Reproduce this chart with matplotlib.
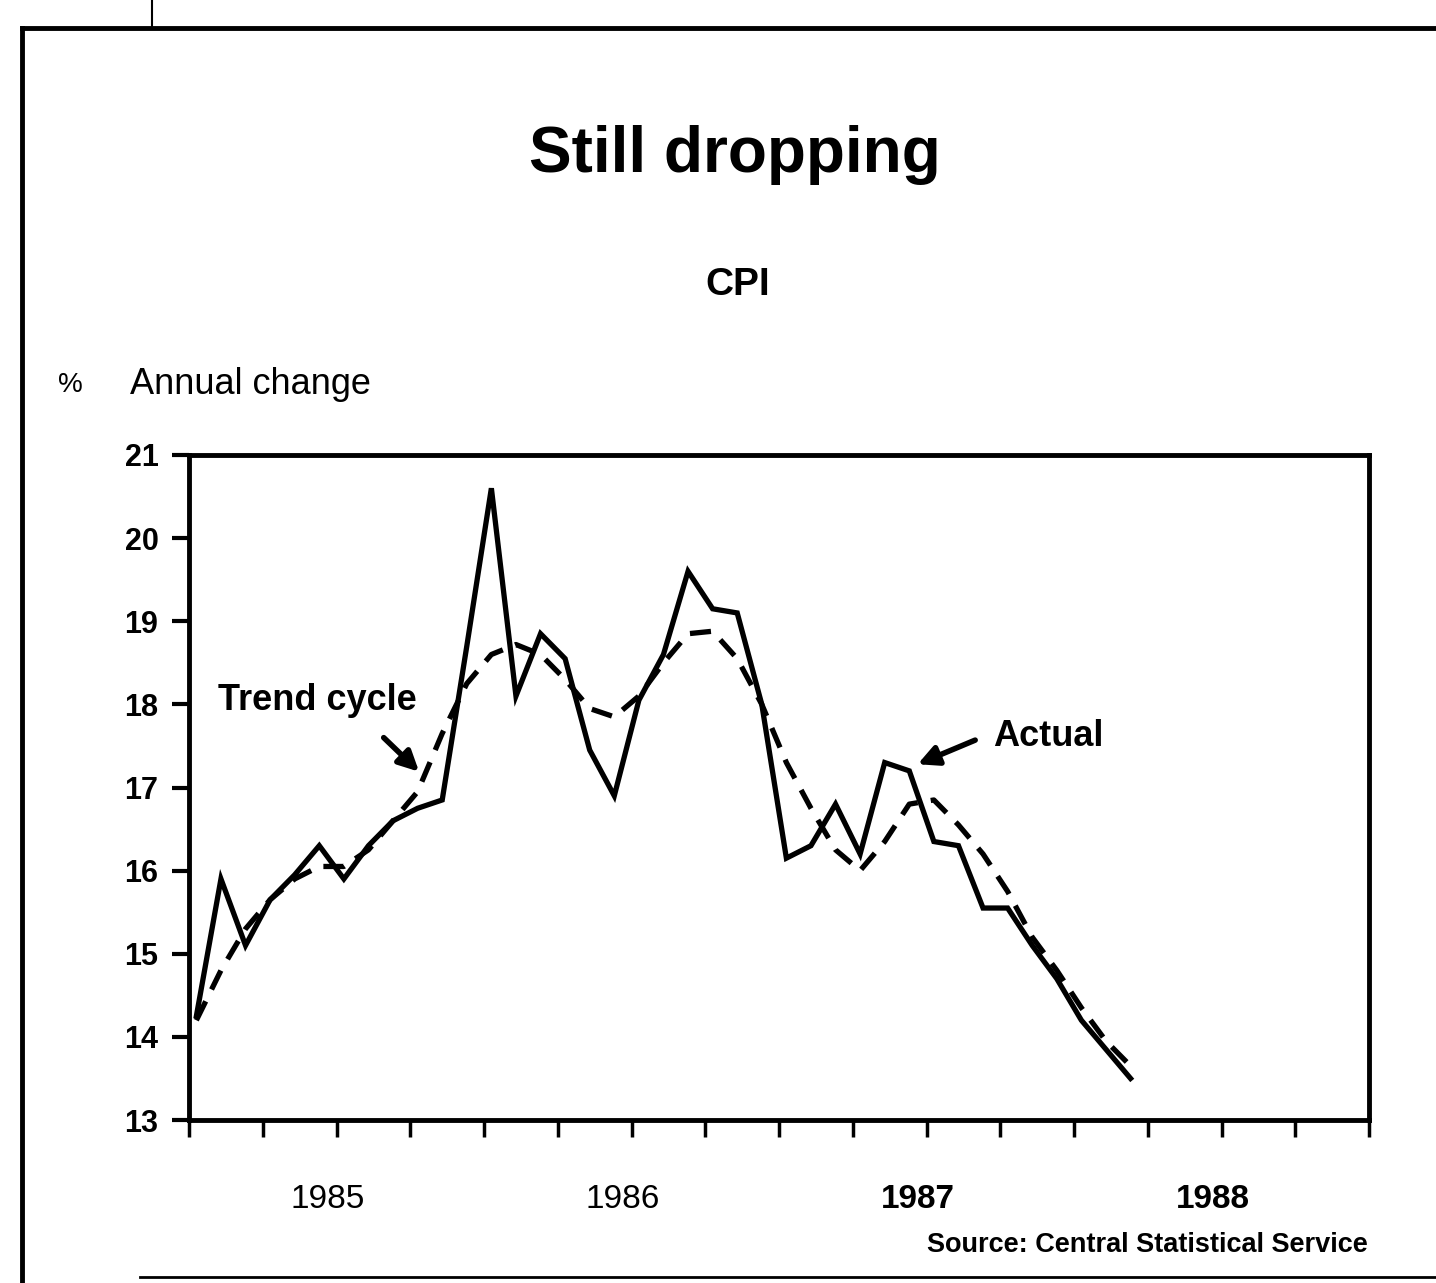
import numpy as np
import matplotlib
matplotlib.use('Agg')
import matplotlib.pyplot as plt
from matplotlib.lines import Line2D

plt.rcParams['font.family'] = ['Liberation Sans', 'DejaVu Sans']

# monthly CPI, annual % change, Jan 1985 - Mar 1988
months = np.arange(39)
actual = [14.25, 15.9, 15.1, 15.65, 15.95, 16.3, 15.9, 16.3, 16.6, 16.75,
          16.85, 18.7, 20.6, 18.1, 18.85, 18.55, 17.45, 16.9, 18.05, 18.6,
          19.6, 19.15, 19.1, 18.0, 16.15, 16.3, 16.8, 16.2, 17.3, 17.2,
          16.35, 16.3, 15.55, 15.55, 15.1, 14.7, 14.2, 13.85, 13.5]
trend = [14.2, 14.8, 15.3, 15.65, 15.9, 16.05, 16.05, 16.25, 16.6, 16.95,
         17.65, 18.25, 18.6, 18.72, 18.6, 18.3, 17.95, 17.85, 18.1, 18.5,
         18.85, 18.88, 18.55, 18.0, 17.3, 16.75, 16.25, 16.0, 16.35, 16.8,
         16.85, 16.55, 16.2, 15.75, 15.2, 14.8, 14.35, 13.95, 13.65]
years = [1985, 1986, 1987, 1988]
year_labels = ['1985', '1986', '1987', '1988']
yticks = list(range(13, 22))

x = 1985 + (months + 0.3) / 12

fig = plt.figure(figsize=(14.36, 12.83), dpi=100)

# outer frame of the clipping
fig.add_artist(Line2D([22/1436, 22/1436], [0, 1 - 28/1283], color='black', lw=3.5))
fig.add_artist(Line2D([22/1436, 1], [1 - 28/1283, 1 - 28/1283], color='black', lw=3.5))
fig.add_artist(Line2D([140/1436, 1], [1 - 1277/1283, 1 - 1277/1283], color='black', lw=2))
fig.add_artist(Line2D([152/1436, 152/1436], [1 - 28/1283, 1], color='black', lw=1.5))

ax = fig.add_axes([189/1436, 1 - 1120/1283, 1180/1436, 665/1283])
ax.plot(x, actual, color='black', lw=3.8, solid_joinstyle='miter')
ax.plot(x, trend, color='black', lw=3.8, dashes=(4, 2.5))

ax.set_xlim(1985, 1989)
ax.set_ylim(13, 21)
for s in ax.spines.values():
    s.set_linewidth(3.5)

ax.set_yticks(yticks)
ax.set_yticklabels([str(v) for v in yticks], fontsize=22, fontweight='bold')
ax.tick_params(axis='y', direction='out', length=12, width=3, pad=10)

ax.xaxis.remove_overlapping_locs = False
ax.set_xticks(np.arange(1985, 1989.01, 0.25))
ax.set_xticklabels([])
ax.tick_params(axis='x', which='major', direction='out', length=12, width=2.5)
ax.set_xticks([y + 0.47 for y in years], minor=True)
ax.set_xticklabels(year_labels, minor=True, fontsize=24)
ax.tick_params(axis='x', which='minor', length=0, pad=46)
for lab in ax.get_xticklabels(minor=True)[2:]:
    lab.set_fontweight('bold')

arrow = dict(arrowstyle='-|>', color='black', lw=4, mutation_scale=30,
             shrinkA=0, shrinkB=0)
ax.text(1985.1, 18.05, 'Trend cycle', fontsize=26, fontweight='bold',
        ha='left', va='center')
ax.annotate('', xy=(1985.78, 17.19), xytext=(1985.66, 17.6), arrowprops=arrow)
ax.text(1987.725, 17.61, 'Actual', fontsize=26, fontweight='bold',
        ha='left', va='center')
ax.annotate('', xy=(1987.47, 17.28), xytext=(1987.665, 17.57), arrowprops=arrow)

fig.text(735/1436, 1 - 155/1283, 'Still dropping', fontsize=46,
         fontweight='bold', ha='center', va='center')
fig.text(738/1436, 1 - 285/1283, 'CPI', fontsize=28, fontweight='bold',
         ha='center', va='center')
fig.text(130/1436, 1 - 385/1283, 'Annual change', fontsize=26,
         ha='left', va='center')
fig.text(70/1436, 1 - 385/1283, '%', fontsize=20, ha='center', va='center')
fig.text(1368/1436, 1 - 1245/1283, 'Source: Central Statistical Service',
         fontsize=19.5, fontweight='bold', ha='right', va='center')

fig.savefig('out.png', dpi=100, facecolor='white')
